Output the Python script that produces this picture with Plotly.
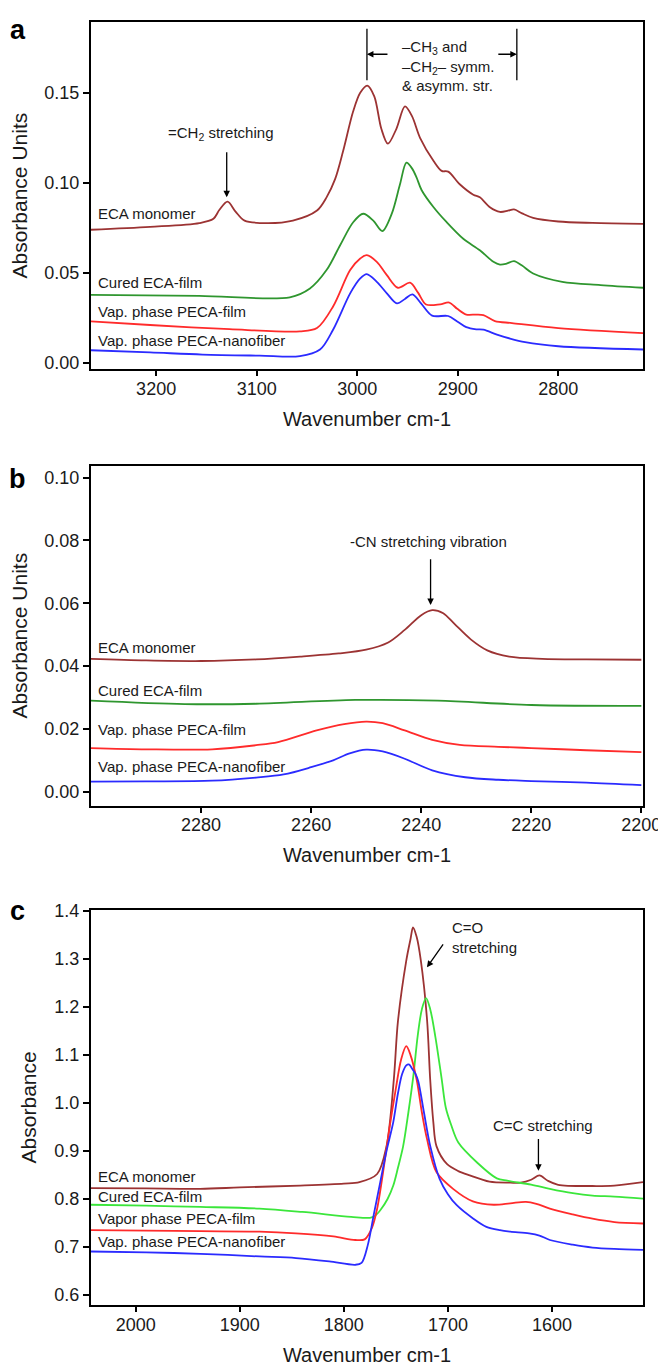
import plotly.graph_objects as go

# ---------------- Panel a (C-H stretching region) ----------------
a_wn_eca = [3265, 3206, 3157, 3143, 3137, 3129, 3121, 3112, 3090, 3064, 3040, 3030.5, 3022, 3014, 3004,
            2997, 2990, 2983, 2976, 2969.5, 2961, 2952.5, 2945.5, 2937.5, 2924, 2916, 2909.5, 2898,
            2884.5, 2878, 2868, 2858, 2850, 2844, 2836, 2825, 2800, 2766, 2715.7]
a_eca = [0.0739, 0.0755, 0.0776, 0.0800, 0.0850, 0.0895, 0.0840, 0.0790, 0.0776, 0.0790, 0.0846, 0.0919,
         0.1020, 0.1176, 0.1397, 0.1500, 0.1540, 0.1480, 0.1300, 0.1217, 0.1300, 0.1424, 0.1370, 0.1250,
         0.1121, 0.1066, 0.1062, 0.0992, 0.0934, 0.0919, 0.0864, 0.0838, 0.0845, 0.0852, 0.0830, 0.0805,
         0.0785, 0.0777, 0.0772]

a_wn_cured = [3265, 3157, 3067, 3047, 3030.5, 3017, 3004, 2994, 2984, 2975, 2965.5, 2957.5, 2951, 2945.5,
              2941, 2936, 2924, 2911, 2894.5, 2878, 2864.5, 2858, 2852, 2844, 2836, 2825, 2796, 2758, 2715.7]
a_cured = [0.0377, 0.0372, 0.0364, 0.0413, 0.0515, 0.0653, 0.0781, 0.0828, 0.0790, 0.0732, 0.0830, 0.0990,
           0.1112, 0.1080, 0.1030, 0.0960, 0.0864, 0.0781, 0.0689, 0.0625, 0.0561, 0.0546, 0.0550, 0.0565,
           0.0540, 0.0496, 0.0450, 0.0432, 0.0417]

a_wn_film = [3265, 3206, 3127, 3057, 3040, 3024, 3007, 2997, 2990.5, 2980.5, 2970.5, 2959.5, 2947.5,
             2939.5, 2931.5, 2917.5, 2908.5, 2900.5, 2891.5, 2881.5, 2874.5, 2863, 2846, 2800, 2715.7]
a_film = [0.0230, 0.0210, 0.0187, 0.0175, 0.0193, 0.0313, 0.0515, 0.0579, 0.0598, 0.0561, 0.0487, 0.0417,
          0.0445, 0.0390, 0.0324, 0.0325, 0.0335, 0.0300, 0.0268, 0.0268, 0.0265, 0.0232, 0.0221, 0.0193,
          0.0165]

a_wn_fiber = [3265, 3206, 3154, 3097, 3057, 3037, 3024, 3007, 2997, 2990.5, 2980.5, 2970.5, 2960.5, 2952.5,
              2945, 2936.5, 2925.5, 2909.5, 2900.5, 2891.5, 2881.5, 2874.5, 2861, 2848, 2833, 2800, 2715.7]
a_fiber = [0.0070, 0.0058, 0.0046, 0.0040, 0.0037, 0.0074, 0.0184, 0.0386, 0.0469, 0.0493, 0.0450, 0.0386,
           0.0330, 0.0355, 0.0380, 0.0330, 0.0262, 0.0260, 0.0230, 0.0198, 0.0186, 0.0184, 0.0157, 0.0135,
           0.0115, 0.0092, 0.0074]

# ---------------- Panel b (-CN region) ----------------
b_wn_eca = [2300, 2290, 2280, 2270, 2262, 2255, 2250, 2246, 2243, 2240, 2238, 2236, 2234, 2231, 2228, 2224,
            2218, 2210, 2200]
b_eca = [0.0423, 0.0418, 0.0416, 0.0421, 0.0430, 0.0440, 0.0452, 0.0475, 0.0515, 0.0562, 0.0578, 0.0568,
         0.0535, 0.0485, 0.0450, 0.0430, 0.0423, 0.0421, 0.0420]

b_wn_cured = [2300, 2283, 2270, 2252, 2237, 2220, 2200]
b_cured = [0.0290, 0.0279, 0.0280, 0.0292, 0.0290, 0.0276, 0.0273]

b_wn_film = [2300, 2290, 2278, 2270, 2266, 2259, 2254, 2250, 2247, 2243, 2238, 2233, 2226, 2220, 2210, 2200]
b_film = [0.0139, 0.0135, 0.0135, 0.0148, 0.0158, 0.0195, 0.0215, 0.0223, 0.0218, 0.0195, 0.0165, 0.0149,
          0.0143, 0.0139, 0.0132, 0.0126]

b_wn_fiber = [2300, 2290, 2278, 2270, 2265, 2260, 2256, 2253, 2250, 2247, 2243, 2238, 2232, 2226, 2220, 2210, 2200]
b_fiber = [0.0032, 0.0033, 0.0035, 0.0045, 0.0055, 0.0078, 0.0100, 0.0122, 0.0134, 0.0128, 0.0105, 0.0068,
           0.0046, 0.0038, 0.0034, 0.0029, 0.0021]

# ---------------- Panel c (C=O / C=C region) ----------------
c_wn_eca = [2043, 1990, 1938, 1900, 1842, 1800, 1785, 1768, 1759, 1752, 1748, 1740, 1736, 1733.5, 1730, 1726,
            1720, 1717, 1714, 1711, 1701, 1690, 1679, 1660, 1640, 1630, 1620, 1612, 1604, 1594, 1561, 1540, 1512.5]
c_eca = [0.8227, 0.8220, 0.8212, 0.8240, 0.8280, 0.8320, 0.8350, 0.8520, 0.9100, 1.0480, 1.1700, 1.2960,
         1.3400, 1.3650, 1.3450, 1.2960, 1.1720, 1.0480, 0.9600, 0.9100, 0.8730, 0.8580, 0.8490, 0.8360,
         0.8340, 0.8340, 0.8400, 0.8490, 0.8380, 0.8295, 0.8270, 0.8280, 0.8350]

c_wn_cured = [2043, 1990, 1938, 1881, 1840, 1793, 1775, 1770, 1765, 1758, 1752.5, 1748, 1743, 1738, 1733, 1729,
              1725, 1721, 1717, 1712, 1706, 1702, 1697, 1690, 1672, 1653, 1643, 1620, 1602, 1580, 1561, 1540,
              1512.5]
c_cured = [0.7880, 0.7860, 0.7835, 0.7800, 0.7730, 0.7630, 0.7608, 0.7650, 0.7765, 0.8000, 0.8280, 0.8650,
           0.9100, 0.9800, 1.0600, 1.1400, 1.1950, 1.2180, 1.1950, 1.1370, 1.0500, 0.9900, 0.9550, 0.9175,
           0.8760, 0.8430, 0.8380, 0.8300, 0.8210, 0.8120, 0.8070, 0.8050, 0.8006]

c_wn_film = [2043, 1990, 1938, 1881, 1846, 1810, 1789, 1780, 1773, 1768, 1762, 1756, 1750, 1745, 1740, 1736,
             1730, 1725, 1720, 1711, 1695, 1676, 1656, 1640, 1625, 1615, 1602, 1580, 1561, 1540, 1512.5]
c_film = [0.7353, 0.7340, 0.7330, 0.7320, 0.7285, 0.7220, 0.7147, 0.7160, 0.7400, 0.7800, 0.8600, 0.9500,
          1.0300, 1.0900, 1.1180, 1.1000, 1.0480, 0.9800, 0.9240, 0.8560, 0.8210, 0.7950, 0.7880, 0.7910,
          0.7940, 0.7900, 0.7800, 0.7680, 0.7590, 0.7520, 0.7490]

c_wn_fiber = [2043, 1990, 1938, 1881, 1846, 1814, 1789, 1783, 1777, 1771, 1765, 1759, 1752.5, 1748, 1744, 1740,
              1737.5, 1734, 1731, 1728.5, 1723, 1717, 1708, 1700, 1691.5, 1675.5, 1663, 1650, 1640, 1622, 1612,
              1602, 1580, 1561, 1540, 1512.5]
c_fiber = [0.6907, 0.6890, 0.6860, 0.6804, 0.6770, 0.6700, 0.6631, 0.6670, 0.7040, 0.7700, 0.8350, 0.9000,
           0.9600, 1.0200, 1.0600, 1.0780, 1.0800, 1.0700, 1.0600, 1.0450, 0.9800, 0.9105, 0.8420, 0.8100,
           0.7870, 0.7590, 0.7420, 0.7350, 0.7320, 0.7285, 0.7240, 0.7147, 0.7050, 0.6990, 0.6960, 0.6940]

names_ab = ["ECA monomer", "Cured ECA-film", "Vap. phase PECA-film", "Vap. phase PECA-nanofiber"]
names_c = ["ECA monomer", "Cured ECA-film", "Vapor phase PECA-film", "Vap. phase PECA-nanofiber"]

BROWN = "#9c3333"
GREEN = "#2f962f"
LGREEN = "#3be63b"
RED = "#ff2b2b"
BLUE = "#2b2bff"

fig = go.Figure()


def add(x, y, color, xa, ya, name):
    fig.add_trace(go.Scatter(x=x, y=y, mode="lines", name=name, xaxis=xa, yaxis=ya,
                             line=dict(color=color, width=1.8, shape="spline", smoothing=0.9),
                             hoverinfo="x+y+name"))


add(a_wn_eca, a_eca, BROWN, "x", "y", names_ab[0])
add(a_wn_cured, a_cured, GREEN, "x", "y", names_ab[1])
add(a_wn_film, a_film, RED, "x", "y", names_ab[2])
add(a_wn_fiber, a_fiber, BLUE, "x", "y", names_ab[3])

add(b_wn_eca, b_eca, BROWN, "x2", "y2", names_ab[0])
add(b_wn_cured, b_cured, GREEN, "x2", "y2", names_ab[1])
add(b_wn_film, b_film, RED, "x2", "y2", names_ab[2])
add(b_wn_fiber, b_fiber, BLUE, "x2", "y2", names_ab[3])

add(c_wn_eca, c_eca, BROWN, "x3", "y3", names_c[0])
add(c_wn_cured, c_cured, LGREEN, "x3", "y3", names_c[1])
add(c_wn_film, c_film, RED, "x3", "y3", names_c[2])
add(c_wn_fiber, c_fiber, BLUE, "x3", "y3", names_c[3])

FONT = "Arial, Liberation Sans, Helvetica, sans-serif"
TXT = "#1a1a1a"

xaxis_common = dict(showline=True, linecolor="black", linewidth=2, mirror=True,
                    ticks="outside", ticklen=5, tickwidth=1.5, tickcolor="black",
                    showgrid=False, zeroline=False, ticklabelstandoff=-3,
                    tickfont=dict(family=FONT, size=18, color=TXT))
yaxis_common = dict(showline=True, linecolor="black", linewidth=2, mirror=True,
                    ticks="outside", ticklen=6, tickwidth=1.5, tickcolor="black",
                    showgrid=False, zeroline=False,
                    tickfont=dict(family=FONT, size=18, color=TXT))

xtitle = dict(text="Wavenumber cm-1", font=dict(family=FONT, size=20, color=TXT), standoff=14)


def ytitle(t):
    return dict(text=t, font=dict(family=FONT, size=21, color=TXT), standoff=12)


# the page body adds an 8px offset, so the figure is 8px smaller than the window
fig.update_layout(
    width=658, height=1360,
    margin=dict(l=83, r=23, t=5, b=61),
    plot_bgcolor="white", paper_bgcolor="white",
    showlegend=False,
    font=dict(family=FONT, color=TXT),
    xaxis=dict(xaxis_common, domain=[0, 1], anchor="y", range=[3264.8, 2715.7],
               tickvals=[3200, 3100, 3000, 2900, 2800], title=xtitle),
    yaxis=dict(yaxis_common, domain=[0.7293, 1.0], anchor="x", range=[-0.0036, 0.1893],
               tickvals=[0.0, 0.05, 0.10, 0.15], tickformat=".2f", title=ytitle("Absorbance Units")),
    xaxis2=dict(xaxis_common, domain=[0, 1], anchor="y2", range=[2300, 2199.7],
                tickvals=[2280, 2260, 2240, 2220, 2200], title=xtitle),
    yaxis2=dict(yaxis_common, domain=[0.3893, 0.6540], anchor="x2", range=[-0.0044, 0.1037],
                tickvals=[0.0, 0.02, 0.04, 0.06, 0.08, 0.10], tickformat=".2f", title=ytitle("Absorbance Units")),
    xaxis3=dict(xaxis_common, domain=[0, 1], anchor="y3", range=[2043, 1512.5],
                tickvals=[2000, 1900, 1800, 1700, 1600], title=xtitle),
    yaxis3=dict(yaxis_common, domain=[0.0, 0.3081], anchor="x3", range=[0.5794, 1.402],
                tickvals=[0.6, 0.7, 0.8, 0.9, 1.0, 1.1, 1.2, 1.3, 1.4], tickformat=".1f",
                title=ytitle("Absorbance")),
)

ann = []

# curve labels
label_y_a = [0.0831, 0.0445, 0.0283, 0.0125]
label_y_b = [0.0460, 0.0323, 0.0197, 0.0081]
label_y_c = [0.8466, 0.8042, 0.7594, 0.7113]
for names, ys, xr, yr in [(names_ab, label_y_a, "x domain", "y"),
                          (names_ab, label_y_b, "x2 domain", "y2"),
                          (names_c, label_y_c, "x3 domain", "y3")]:
    for n, yv in zip(names, ys):
        ann.append(dict(text=n, x=0.0085, y=yv, xref=xr, yref=yr, xanchor="left", yanchor="middle",
                        showarrow=False, font=dict(family=FONT, size=15, color=TXT)))

# panel letters
for letter, yv in [("a", 0.9938), ("b", 0.6437), ("c", 0.3068)]:
    ann.append(dict(text="<b>%s</b>" % letter, x=-0.133, y=yv, xref="paper", yref="paper",
                    xanchor="center", yanchor="middle", showarrow=False,
                    font=dict(family=FONT, size=27, color="black")))

ARROW = dict(showarrow=True, arrowhead=2, arrowsize=1, arrowwidth=1.3, arrowcolor="black", standoff=0)

# panel a annotations
ann.append(dict(text="=CH<sub>2</sub> stretching", x=3135.8, y=0.1272, xref="x", yref="y",
                showarrow=False, font=dict(family=FONT, size=15, color=TXT)))
ann.append(dict(ARROW, text="", x=3129.8, y=0.0919, ax=3129.8, ay=0.1178, xref="x", yref="y",
                axref="x", ayref="y"))
ann.append(dict(text="\u2013CH<sub>3</sub> and<br>\u2013CH<sub>2</sub>\u2013 symm.<br>&amp; asymm. str.",
                x=2957.5, y=0.165, xref="x", yref="y", xanchor="left", yanchor="middle", align="left",
                showarrow=False, font=dict(family=FONT, size=15, color=TXT)))
ann.append(dict(ARROW, text="", x=2990.3, y=0.1714, ax=2968.4, ay=0.1714, xref="x", yref="y",
                axref="x", ayref="y"))
ann.append(dict(ARROW, text="", x=2841.2, y=0.1714, ax=2861.1, ay=0.1714, xref="x", yref="y",
                axref="x", ayref="y"))

# panel b annotation
ann.append(dict(text="-CN stretching vibration", x=2238.7, y=0.0797, xref="x2", yref="y2",
                showarrow=False, font=dict(family=FONT, size=15, color=TXT)))
ann.append(dict(ARROW, text="", x=2238.3, y=0.0594, ax=2238.3, ay=0.0745, xref="x2", yref="y2",
                axref="x2", ayref="y2"))

# panel c annotations
ann.append(dict(text="C=O<br>stretching", x=1698, y=1.3435, xref="x3", yref="y3", xanchor="left",
                yanchor="middle", align="left", showarrow=False, font=dict(family=FONT, size=15, color=TXT)))
ann.append(dict(ARROW, text="", x=1720.1, y=1.282, ax=1703.6, ay=1.333, xref="x3", yref="y3",
                axref="x3", ayref="y3"))
ann.append(dict(text="C=C stretching", x=1608.5, y=0.9538, xref="x3", yref="y3",
                showarrow=False, font=dict(family=FONT, size=15, color=TXT)))
ann.append(dict(ARROW, text="", x=1613, y=0.859, ax=1613, ay=0.928, xref="x3", yref="y3",
                axref="x3", ayref="y3"))

fig.update_layout(annotations=ann)

# bracket lines for the -CH3/-CH2- region
shapes = []
for xv in [2990.3, 2841.2]:
    shapes.append(dict(type="line", x0=xv, x1=xv, y0=0.157, y1=0.1856, xref="x", yref="y",
                       line=dict(color="black", width=1.3)))
fig.update_layout(shapes=shapes)

fig.write_html("out.html")
